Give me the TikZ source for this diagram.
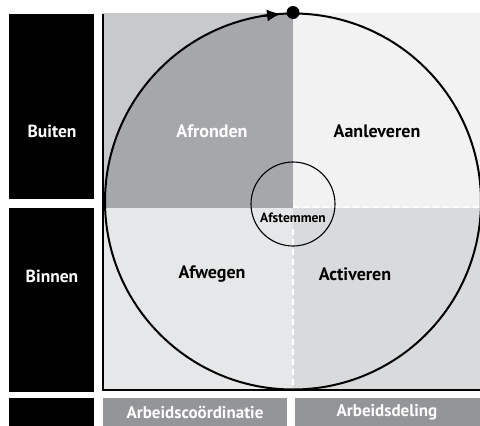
\documentclass[tikz,border=0pt]{standalone}
\usepackage{fontspec}
\setmainfont{PT Sans}
\usetikzlibrary{arrows.meta}
\definecolor{kwadA}{HTML}{C8C9CB}
\definecolor{kwadB}{HTML}{F2F2F2}
\definecolor{kwadC}{HTML}{E6E7E8}
\definecolor{kwadD}{HTML}{D9DADB}
\definecolor{kwartdonker}{HTML}{A6A7AA}
\definecolor{balk}{HTML}{949598}

\begin{document}
\begin{tikzpicture}[x=1pt,y=-1pt,>={Latex[length=14pt,width=12pt]},
    zijlabel/.style={text=white,font=\bfseries\fontsize{17.5}{20}\selectfont},
    fase/.style={font=\bfseries\fontsize{18}{21}\selectfont},
    voetlabel/.style={text=white,font=\bfseries\fontsize{17}{20}\selectfont}]
  \useasboundingbox (0,0) rectangle (480,426);
  \clip (0,0) rectangle (480,426);
  \fill[kwadA] (103,13) rectangle (293,208);
  \fill[kwadB] (293,13) rectangle (480,208);
  \fill[kwadC] (103,208) rectangle (293,390);
  \fill[kwadD] (293,208) rectangle (480,390);
  \begin{scope}
    \clip (293,201.5) circle (188);
    \fill[kwartdonker] (103,13) rectangle (293,208);
  \end{scope}
  \draw[white,line width=2pt,dash pattern=on 6pt off 4pt] (293,207) -- (480,207);
  \draw[white,line width=2pt,dash pattern=on 6pt off 4pt] (293,229) -- (293,390);
  \draw[line width=1.1pt] (293,204) circle (42);
  \draw[line width=2pt] (293,201.5) circle (188);
  \draw[line width=2pt] (103,14) -- (103,390) -- (480,390);
  \draw[line width=2pt,->] (262,16) -- (281,13.9);
  \fill (293,12.5) circle (6.5);
  \fill (9,14) rectangle (94,199);
  \fill (9,208) rectangle (94,392);
  \fill (9,398) rectangle (94,426);
  \fill[balk] (103,398) rectangle (287,426);
  \fill[balk] (295,398) rectangle (480,426);
  \node[zijlabel] (buiten) at (52,131) {Buiten};
  \node[zijlabel] (binnen) at (52,276) {Binnen};
  \node[fase,text=white] (afronden) at (212,131) {Afronden};
  \node[fase] (aanleveren) at (377,131) {Aanleveren};
  \node[fase] (afwegen) at (212,274) {Afwegen};
  \node[fase] (activeren) at (355,274) {Activeren};
  \node[font=\bfseries\fontsize{13.5}{15}\selectfont] (afstemmen) at (293,218) {Afstemmen};
  \node[voetlabel] (coord) at (195,412) {Arbeidsco\"ordinatie};
  \node[voetlabel] (deling) at (387,412) {Arbeidsdeling};
\end{tikzpicture}
\end{document}
